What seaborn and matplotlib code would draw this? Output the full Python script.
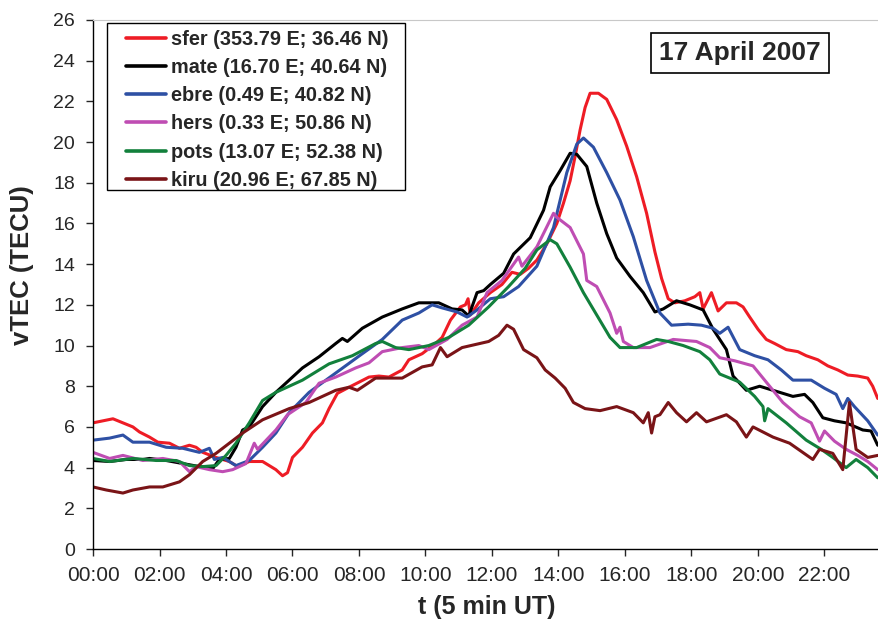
import pandas as pd
import matplotlib
matplotlib.use("Agg")
import matplotlib.pyplot as plt
from matplotlib.patches import Rectangle
import seaborn as sns

# vTEC per station (time in hours UT, value in TECU)
t_sfer = [0.0, 0.3, 0.6, 0.9, 1.2, 1.4, 1.7, 1.95, 2.3, 2.6, 2.9, 3.1, 3.3, 3.7, 4.1, 4.35, 4.7, 5.1, 5.3, 5.5,
          5.7, 5.85, 6.0, 6.3, 6.6, 6.9, 7.1, 7.35, 7.7, 8.0, 8.3, 8.6, 8.9, 9.3, 9.5, 9.9, 10.3, 10.5, 10.75, 11.05,
          11.2, 11.28, 11.35, 11.6, 11.95, 12.3, 12.6, 12.85, 13.1, 13.35, 13.65, 13.95, 14.15, 14.35, 14.5, 14.65,
          14.8, 14.95, 15.2, 15.45, 15.75, 16.05, 16.35, 16.65, 16.9, 17.1, 17.3, 17.5, 17.8, 18.1, 18.25, 18.35,
          18.6, 18.8, 19.05, 19.35, 19.55, 19.75, 20.0, 20.25, 20.5, 20.85, 21.2, 21.45, 21.8, 22.1, 22.4, 22.7,
          23.0, 23.3, 23.45, 23.6]
v_sfer = [6.2, 6.3, 6.4, 6.2, 6.0, 5.75, 5.5, 5.25, 5.2, 4.95, 5.1, 5.0, 4.75, 4.5, 4.3, 4.05, 4.3, 4.3, 4.1, 3.9,
          3.6, 3.75, 4.5, 5.0, 5.7, 6.2, 6.9, 7.65, 7.95, 8.2, 8.45, 8.5, 8.45, 8.8, 9.3, 9.6, 10.1, 10.4, 11.25, 11.9,
          12.0, 12.3, 11.5, 12.1, 12.6, 13.0, 13.6, 13.5, 13.8, 14.2, 15.0, 16.0, 17.0, 18.1, 19.3, 20.6,
          21.7, 22.4, 22.4, 22.1, 21.1, 19.8, 18.3, 16.5, 14.6, 13.3, 12.3, 12.1, 12.2, 12.4, 12.6, 11.8,
          12.6, 11.7, 12.1, 12.1, 11.9, 11.4, 10.8, 10.3, 10.1, 9.8, 9.7, 9.5, 9.3, 9.0, 8.8, 8.55,
          8.5, 8.4, 8.0, 7.4]

t_mate = [0.0, 0.5, 1.0, 1.5, 1.7, 2.2, 2.7, 3.2, 3.6, 3.8, 4.1, 4.3, 4.5, 4.7, 5.1, 5.5, 5.9, 6.3, 6.8, 7.3, 7.5,
          7.65, 8.1, 8.7, 9.3, 9.8, 10.4, 10.8, 11.1, 11.3, 11.55, 11.75, 11.95, 12.35, 12.65, 13.15, 13.55, 13.75,
          14.05, 14.35, 14.55, 14.85, 15.15, 15.45, 15.75, 16.15, 16.55, 16.9, 17.15, 17.55, 17.95, 18.35, 18.65,
          19.05, 19.25, 19.65, 20.05, 20.45, 21.05, 21.4, 21.65, 21.95, 22.3, 22.65, 23.15, 23.4, 23.6]
v_mate = [4.35, 4.3, 4.4, 4.4, 4.45, 4.35, 4.2, 4.05, 3.95, 4.4, 4.45, 5.0, 5.85, 6.0, 7.0, 7.7, 8.3, 8.9, 9.45, 10.1, 10.35,
          10.2, 10.85, 11.4, 11.8, 12.1, 12.1, 11.8, 11.75, 11.45, 12.6, 12.7, 13.0, 13.55, 14.5, 15.3, 16.65, 17.8,
          18.6, 19.45, 19.4, 18.8, 17.0, 15.5, 14.3, 13.4, 12.6, 11.65, 11.8, 12.2, 12.0, 11.75, 10.8,
          9.8, 8.5, 7.8, 8.0, 7.8, 7.5, 7.6, 7.2, 6.45, 6.3, 6.2, 5.85, 5.8, 5.1]

t_ebre = [0.0, 0.5, 0.9, 1.2, 1.7, 2.2, 2.7, 3.2, 3.5, 3.65, 3.9, 4.3, 4.7, 5.1, 5.5, 5.9, 6.5, 7.3, 8.1, 8.7, 9.3,
          9.8, 10.2, 10.5, 10.95, 11.25, 11.55, 11.95, 12.35, 12.8, 13.35, 13.85, 14.25, 14.55, 14.75, 15.05, 15.45,
          15.85, 16.25, 16.65, 17.05, 17.4, 17.9, 18.3, 18.65, 18.85, 19.1, 19.45, 19.9, 20.3, 20.7, 21.05, 21.6,
          22.0, 22.35, 22.55, 22.7, 22.9, 23.3, 23.6]
v_ebre = [5.35, 5.45, 5.6, 5.25, 5.25, 5.0, 4.95, 4.75, 4.95, 4.4, 4.5, 4.1, 4.35, 5.0, 5.7, 6.7, 7.7, 8.65, 9.6, 10.3, 11.25,
          11.6, 12.0, 11.85, 11.65, 11.4, 11.75, 12.3, 12.4, 12.9, 13.9, 15.8, 18.5, 19.9, 20.2, 19.75, 18.5,
          17.15, 15.35, 13.2, 11.6, 11.0, 11.05, 11.0, 10.85, 10.6, 10.9, 9.8, 9.5, 9.3, 8.8, 8.3, 8.3,
          7.9, 7.6, 6.9, 7.4, 7.0, 6.3, 5.6]

t_hers = [0.0, 0.5, 0.9, 1.5, 2.1, 2.6, 2.9, 3.1, 3.5, 3.9, 4.2, 4.6, 4.85, 4.95, 5.5, 5.85, 6.4, 6.8, 7.3, 7.9, 8.3,
          8.7, 9.3, 9.8, 10.1, 10.65, 11.1, 11.55, 11.85, 12.3, 12.8, 12.9, 13.35, 13.85, 13.95, 14.35, 14.75, 14.85,
          15.15, 15.55, 15.75, 15.85, 15.95, 16.25, 16.75, 17.45, 18.15, 18.55, 18.85, 19.3, 19.85, 20.25, 20.75,
          21.25, 21.6, 21.85, 22.0, 22.3, 22.65, 23.0, 23.3, 23.6]
v_hers = [4.75, 4.45, 4.6, 4.35, 4.45, 4.3, 3.8, 4.05, 3.9, 3.8, 3.9, 4.2, 5.2, 4.9, 5.85, 6.6, 7.2, 8.15, 8.45, 8.9, 9.15,
          9.7, 9.9, 10.0, 9.8, 10.3, 11.0, 11.4, 12.6, 13.2, 14.35, 13.9, 14.85, 16.5, 16.3, 15.8, 14.5, 13.2,
          12.9, 11.6, 10.6, 10.9, 10.2, 9.9, 9.9, 10.3, 10.2, 9.9, 9.4, 9.25, 9.0, 8.2, 7.2,
          6.5, 6.2, 5.3, 5.8, 5.3, 4.9, 4.6, 4.3, 3.9]

t_pots = [0.0, 0.5, 1.2, 1.9, 2.5, 2.9, 3.3, 3.7, 4.0, 4.3, 4.7, 5.1, 5.5, 5.9, 6.3, 7.1, 7.8, 8.5, 8.7, 9.1, 9.5,
          10.1, 10.7, 11.3, 11.9, 12.5, 13.0, 13.35, 13.75, 13.95, 14.35, 14.75, 15.15, 15.55, 15.85, 16.35, 16.95,
          17.3, 17.75, 18.25, 18.55, 18.85, 19.45, 19.9, 20.15, 20.2, 20.3, 20.85, 21.45, 21.9, 22.25, 22.65, 22.95,
          23.3, 23.6]
v_pots = [4.45, 4.3, 4.45, 4.35, 4.35, 4.1, 4.05, 4.1, 4.6, 5.2, 6.2, 7.3, 7.7, 8.0, 8.3, 9.1, 9.5, 10.1, 10.2, 9.9, 9.8,
          10.0, 10.4, 11.0, 11.9, 12.9, 13.8, 14.7, 15.2, 15.0, 13.85, 12.6, 11.5, 10.4, 9.9, 9.9, 10.3,
          10.2, 10.0, 9.7, 9.3, 8.6, 8.2, 7.5, 7.0, 6.3, 6.9, 6.2, 5.35, 4.9, 4.5, 4.0, 4.4,
          4.0, 3.5]

t_kiru = [0.0, 0.4, 0.9, 1.2, 1.7, 2.1, 2.6, 2.9, 3.3, 3.7, 4.1, 4.5, 5.1, 5.9, 6.5, 7.3, 7.7, 7.95, 8.5, 9.3, 9.9,
          10.2, 10.45, 10.65, 11.1, 11.9, 12.2, 12.45, 12.65, 12.95, 13.35, 13.6, 13.9, 14.2, 14.45, 14.8, 15.25,
          15.75, 16.25, 16.55, 16.7, 16.8, 16.9, 17.05, 17.3, 17.55, 17.85, 18.15, 18.45, 19.05, 19.35, 19.65,
          19.85, 20.45, 20.95, 21.65, 21.85, 22.25, 22.55, 22.75, 22.95, 23.3, 23.6]
v_kiru = [3.05, 2.9, 2.75, 2.9, 3.05, 3.05, 3.3, 3.65, 4.3, 4.7, 5.2, 5.7, 6.35, 6.9, 7.2, 7.8, 7.95, 7.8, 8.4, 8.4, 8.95,
          9.05, 9.9, 9.45, 9.9, 10.2, 10.5, 11.0, 10.8, 9.8, 9.4, 8.8, 8.4, 7.9, 7.2, 6.9, 6.8,
          7.0, 6.7, 6.2, 6.7, 5.7, 6.5, 6.6, 7.2, 6.7, 6.25, 6.7, 6.25, 6.6, 6.25, 5.5,
          6.0, 5.5, 5.2, 4.4, 4.9, 4.7, 3.9, 7.2, 4.9, 4.5, 4.6]

stations = ["sfer (353.79 E; 36.46 N)", "mate (16.70 E; 40.64 N)", "ebre (0.49 E; 40.82 N)",
            "hers (0.33 E; 50.86 N)", "pots (13.07 E; 52.38 N)", "kiru (20.96 E; 67.85 N)"]
colors = ["#ee1c25", "#000000", "#2e50a4", "#bf4db3", "#12803c", "#7a1417"]
x_ticks = [0, 2, 4, 6, 8, 10, 12, 14, 16, 18, 20, 22]
x_ticklabels = ["00:00", "02:00", "04:00", "06:00", "08:00", "10:00",
                "12:00", "14:00", "16:00", "18:00", "20:00", "22:00"]
y_ticks = list(range(0, 27, 2))

series = [(t_sfer, v_sfer), (t_mate, v_mate), (t_ebre, v_ebre),
          (t_hers, v_hers), (t_pots, v_pots), (t_kiru, v_kiru)]
frames = []
for name, (t, v) in zip(stations, series):
    frames.append(pd.DataFrame({"t": t, "vtec": v, "station": name}))
df = pd.concat(frames, ignore_index=True)

sns.set_style("white")
plt.rcParams["font.family"] = ["Liberation Sans", "DejaVu Sans"]

W, H = 879, 625
fig = plt.figure(figsize=(W / 100, H / 100), dpi=100)
# axis runs to 24:00, just past the right edge of the picture (as in the original crop)
ax = fig.add_axes([93 / W, 76 / H, (891 - 93) / W, (549 - 20) / H])

sns.lineplot(data=df, x="t", y="vtec", hue="station", palette=dict(zip(stations, colors)),
             estimator=None, sort=False, linewidth=2.2, ax=ax)

ax.set_xlim(0, 24)
ax.set_ylim(0, 26)
ax.set_xticks(x_ticks)
ax.set_xticklabels(x_ticklabels)
ax.set_yticks(y_ticks)
ax.tick_params(axis="y", labelsize=14, direction="out", length=5, width=1, left=True, pad=8)
ax.tick_params(axis="x", labelsize=15, direction="out", length=5, width=1, bottom=True, pad=7)
ax.set_xlabel("")
ax.set_ylabel("")

fig.text(487 / W, 1 - 607 / H, "t (5 min UT)", ha="center", va="center", fontsize=18, fontweight="bold")
fig.text(22 / W, 1 - 265 / H, "vTEC (TECU)", ha="center", va="center", rotation=90,
         fontsize=18.5, fontweight="bold")

for side in ["left", "bottom"]:
    ax.spines[side].set_color("black")
    ax.spines[side].set_linewidth(1)
ax.spines["top"].set_color("#c8c8c8")
ax.spines["right"].set_visible(False)

# legend without its own frame; the box is drawn separately so the padding matches
handles, labels = ax.get_legend_handles_labels()
leg = ax.legend(handles, labels, loc="upper left", bbox_to_anchor=(126 / W, 1 - 30 / H),
                bbox_transform=fig.transFigure, borderaxespad=0, borderpad=0, frameon=False,
                prop={"weight": "bold", "size": 14.3}, handlelength=2.0, labelspacing=0.46,
                handletextpad=0.25)
for line in leg.get_lines():
    line.set_linewidth(2.6)
fig.patches.append(Rectangle((107 / W, 1 - 190 / H), (405 - 107) / W, (190 - 23) / H,
                             transform=fig.transFigure, fill=False, ec="black", lw=1, zorder=5))

fig.text(740 / W, 1 - 53 / H, "17 April 2007", ha="center", va="center", fontsize=19,
         fontweight="bold", bbox=dict(boxstyle="square,pad=0.3", fc="white", ec="black", lw=1.2))

fig.savefig("out.png", dpi=100)
